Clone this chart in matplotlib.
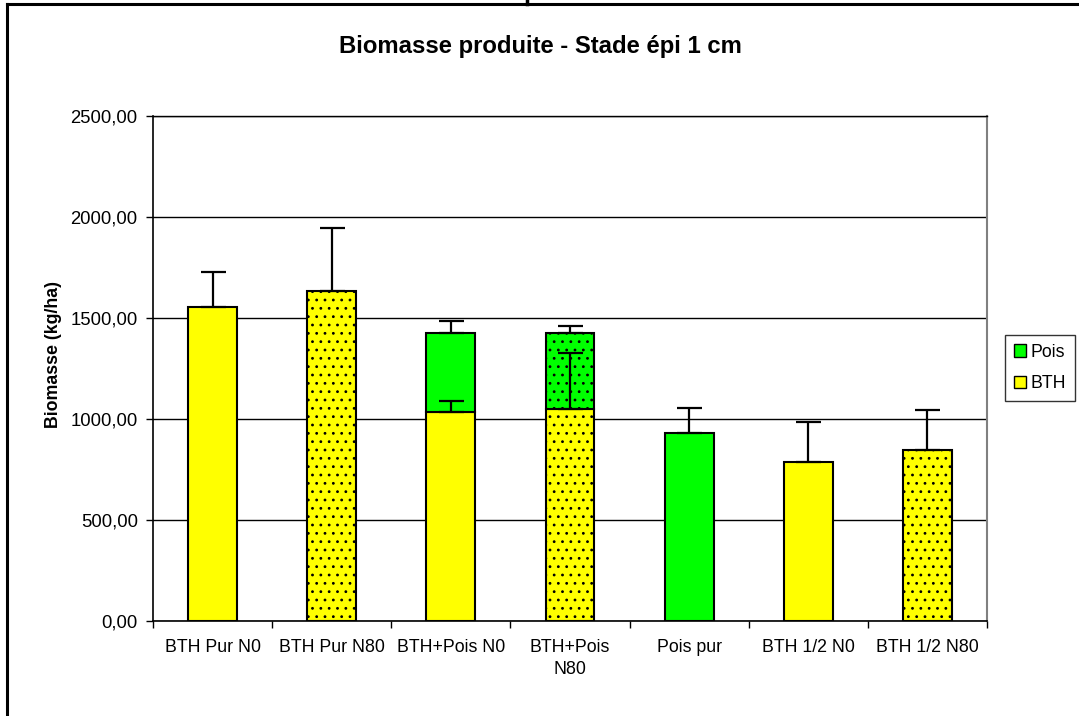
import matplotlib.pyplot as plt
import numpy as np
from matplotlib.lines import Line2D
from matplotlib.patches import Patch

plt.rcParams['font.family'] = ['Liberation Sans', 'DejaVu Sans']
plt.rcParams['hatch.linewidth'] = 0.8
plt.rcParams['hatch.color'] = '#202020'

# données
categories = ['BTH Pur N0', 'BTH Pur N80', 'BTH+Pois N0', 'BTH+Pois\nN80',
              'Pois pur', 'BTH 1/2 N0', 'BTH 1/2 N80']
bth = [1555, 1635, 1035, 1050, 0, 785, 845]
bth_err = [175, 310, 52, 277, 0, 198, 200]
pois = [0, 0, 390, 375, 932, 0, 0]
pois_err = [0, 0, 62, 36, 121, 0, 0]
n80 = [False, True, False, True, False, False, True]
yticks = [0, 500, 1000, 1500, 2000, 2500]

fig = plt.figure(figsize=(10.79, 7.16), dpi=100)
ax = fig.add_axes([153 / 1079, 95 / 716, 834 / 1079, 505 / 716])

x = np.arange(len(categories))
w = 0.41

for i in range(len(categories)):
    hatch = '..' if n80[i] else None
    if bth[i] > 0:
        ax.bar(x[i], bth[i], w, color='#FFFF00', edgecolor='black', linewidth=1.5,
               hatch=hatch, zorder=3)
    if pois[i] > 0:
        ax.bar(x[i], pois[i], w, bottom=bth[i], color='#00FF00', edgecolor='black',
               linewidth=1.5, hatch=hatch, zorder=3)

# barres d'erreur (seulement vers le haut)
for i in range(len(categories)):
    if bth[i] > 0:
        ax.errorbar(x[i], bth[i], yerr=[[0], [bth_err[i]]], fmt='none', ecolor='black',
                    elinewidth=1.6, capsize=9, capthick=1.6, zorder=4)
    if pois[i] > 0:
        ax.errorbar(x[i], bth[i] + pois[i], yerr=[[0], [pois_err[i]]], fmt='none',
                    ecolor='black', elinewidth=1.6, capsize=9, capthick=1.6, zorder=4)

ax.set_xlim(-0.5, len(categories) - 0.5)
ax.set_ylim(0, 2500)
ax.set_yticks(yticks)
ax.set_yticklabels([f'{v:.2f}'.replace('.', ',') for v in yticks], fontsize=13.3)
ax.yaxis.grid(True, color='black', linewidth=1.0, zorder=0)
ax.set_axisbelow(True)

ax.set_xticks(x)
ax.set_xticklabels(categories, fontsize=12.8, linespacing=1.35)
ax.tick_params(axis='x', length=0, pad=13)
ax.set_xticks(np.arange(len(categories) + 1) - 0.5, minor=True)
ax.tick_params(axis='x', which='minor', length=5, width=1.0, direction='out')
ax.tick_params(axis='y', length=5, width=1.0, direction='out', pad=6)

ax.spines['left'].set_linewidth(1.2)
ax.spines['bottom'].set_linewidth(1.2)
ax.spines['right'].set_color('#808080')
ax.spines['right'].set_linewidth(1.5)
ax.spines['top'].set_linewidth(1.0)

ax.set_ylabel('Biomasse (kg/ha)', fontsize=12.8, fontweight='bold')
ax.yaxis.set_label_coords(-91 / 834, 0.527)

fig.text(540 / 1079, 1 - 47 / 716, 'Biomasse produite - Stade épi 1 cm',
         fontsize=17.2, fontweight='bold', ha='center', va='center')

handles = [Patch(facecolor='#00FF00', edgecolor='black', label='Pois'),
           Patch(facecolor='#FFFF00', edgecolor='black', label='BTH')]
leg = fig.legend(handles=handles, loc='center left', bbox_to_anchor=(1005 / 1079, 1 - 368 / 716),
                 fontsize=12.8, frameon=True, fancybox=False, edgecolor='black',
                 handlelength=0.7, handleheight=0.7, handletextpad=0.25,
                 borderpad=0.5, labelspacing=0.8, borderaxespad=0)
leg.get_frame().set_linewidth(1.0)

# cadre extérieur
fig.add_artist(Line2D([7 / 1079, 1.0], [1 - 4 / 716, 1 - 4 / 716], color='black', linewidth=2.2))
fig.add_artist(Line2D([7 / 1079, 7 / 1079], [0, 1 - 4 / 716], color='black', linewidth=2.2))
fig.add_artist(Line2D([527 / 1079, 527 / 1079], [1 - 4 / 716, 1.0], color='black', linewidth=2.5))

fig.savefig('out.png', dpi=100)
